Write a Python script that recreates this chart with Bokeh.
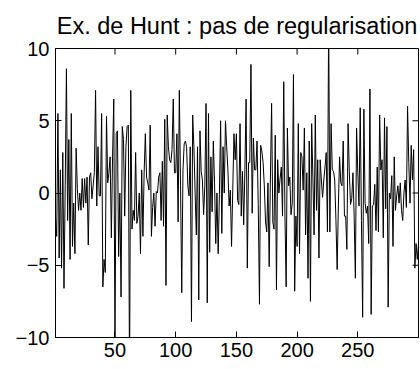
import numpy as np
from bokeh.plotting import figure
from bokeh.models import Range1d, FixedTicker, ColumnDataSource
from bokeh.embed import file_html
from bokeh.resources import INLINE

title_text = "Ex. de Hunt : pas de regularisation"
x_ticks = [50, 100, 150, 200, 250]
y_ticks = [-10, -5, 0, 5, 10]

seg1 = [-1.7, -3.0, 5.5, -4.5, 1.6, -5.2, 2.8, -6.6, 0.5, 8.6, -1.9, 3.7, -4.6, 5.5, -3.7, -0.7,
        -4.2, 3.1, 0.3, -1.2, 0.0, -1.2, 1.0, -1.0, 1.0, -0.7, 1.1, -3.6, 1.1, 1.4, -0.4, 0.5,
        1.4, 7.1, -0.9, 3.2, -0.2, -0.2, 5.5, -6.5, -4.6, -5.5, 5.3, 0.7, 1.4, 2.5, -3.1, 2.5, 6.5]
seg2 = [-10.6, 4.1, 4.3, -4.4, 0.0, -7.2, 4.6, 3.7, -1.6, 3.2, 4.6, 4.7, -13.0,
        7.1, -2.5, -1.2, -1.9, 2.8, -2.1, -1.6, 0.0, -4.2, 1.6, -3.0, 1.4, 4.1, 1.1, 0.7, 0.2,
        4.7, -3.0, -1.0, 0.0, -2.3, 0.1, 0.0, 1.1, 1.4, -1.9, 2.2, -2.3, 5.1, -6.4, 5.4, 3.2,
        2.3, 2.1, 3.0, 6.5, 1.4, 1.4]
seg3 = [4.1, -2.0, 7.1, 0.5, -6.9, 1.6, 3.4, 3.6, 3.2, 0.5, -0.2, 3.2, -8.9, 5.4, 3.2, 0.0,
        -2.9, 3.2, -7.4, 4.3, 1.5, 0.9, -1.5, 0.5, 6.2, -7.6, 5.5, -4.1, 2.5, -1.3, 3.6, 0.7,
        -3.5, 0.0, -4.2, -0.1, 5.0, -2.8, 3.2, 0.0, 5.0, 3.2, 1.6, -0.9, 0.2, -3.7, 0.2, 4.1, 2.3]
seg4 = [4.1, -0.5, -0.8, 4.8, -1.6, 1.5, -2.2, 1.6, 6.5, -5.2, 2.1, 2.1, 8.9, -1.4, 3.8, 1.6,
        1.6, 3.6, -0.8, -7.7, 3.3, 2.9, 2.1, 0.5, -2.0, -2.7, 0.7, -5.1, 0.9, 6.2, -2.0, -2.5,
        4.0, -6.7, 2.3, 0.0, 1.0, 1.8, -1.6, 7.7, -1.6, -6.5, 4.5, 0.5, 1.1, -1.5, -0.7, 8.2,
        -6.8, -1.6, -3.7]
seg5 = [4.8, -4.2, 2.8, 2.5, 0.2, 4.5, -2.9, 1.4, -5.9, 3.6, -7.5, 4.8, 1.1, -2.9, 5.4, -1.2,
        2.3, -4.5, 2.3, 0.9, -0.3, 0.9, 1.8, 2.8, -2.7, 12.0,
        -2.7, 4.8, 1.6, 1.5, 0.9, -1.9, -5.3, -0.9, 2.5, 0.7, 0.5, 3.6, -1.6, -1.6, -3.9, 4.8,
        1.5, -0.8, -0.4, 1.4, -1.6, -5.9, 4.5, 1.4]
seg6 = [-0.9, 5.9, -1.9, -8.6, 5.8, -0.7, -1.4, -0.9, -3.5, 7.2, -8.4, -0.9, -0.8, 0.6, -2.6,
        1.8, -2.7, 5.4, 1.6, 2.3, -3.1, 5.2, -1.1, 4.6, -7.9, 0.0, -0.4, 1.2, -3.7, 2.5, -1.2,
        -0.2, 0.5, -0.7, 0.7, -1.2, -1.9, 0.0, 0.9, -1.0, 6.0, 2.1, -0.7, 3.3, 0.9, 3.0, -5.2,
        -3.5, -4.6, -3.5]

y = seg1 + seg2 + seg3 + seg4 + seg5 + seg6
x = list(range(1, len(y) + 1))

FONT = "Liberation Sans"
FS = "20px"

xr = Range1d(1, len(y))
yr = Range1d(-10, 10)
p = figure(width=420, height=369, output_backend="svg", toolbar_location=None,
           x_range=xr, y_range=yr,
           min_border_left=55, min_border_right=2, min_border_top=48, min_border_bottom=32)
p.title.text = title_text
p.title.align = "center"
p.title.text_font = FONT
p.title.text_font_size = "23.5px"
p.title.text_font_style = "normal"
p.title.text_color = "black"
p.title.offset = 0
p.title.standoff = 19

p.grid.visible = False
p.outline_line_color = "black"
p.outline_line_width = 1
p.background_fill_color = "white"
p.border_fill_color = "white"

src = ColumnDataSource(dict(x=x, y=y))
p.line("x", "y", source=src, line_color="black", line_width=1)

# inward ticks on top and right sides (box on)
p.scatter(x=x_ticks, y=[yr.end] * len(x_ticks), marker="dash", size=12, angle=np.pi / 2,
          line_color="black", line_width=1)
p.scatter(x=[xr.end] * len(y_ticks), y=y_ticks, marker="dash", size=12, angle=0,
          line_color="black", line_width=1)

for ax in (p.xaxis[0], p.yaxis[0]):
    ax.major_tick_in = 6
    ax.major_tick_out = 0
    ax.minor_tick_in = 0
    ax.minor_tick_out = 0
    ax.major_label_text_font = FONT
    ax.major_label_text_font_size = FS
    ax.major_label_text_color = "black"
    ax.axis_line_color = "black"
    ax.major_tick_line_color = "black"
p.xaxis[0].ticker = FixedTicker(ticks=x_ticks)
p.yaxis[0].ticker = FixedTicker(ticks=y_ticks)
p.xaxis[0].major_label_standoff = 5
p.yaxis[0].major_label_standoff = 6
p.yaxis[0].major_label_overrides = {-10: "\u221210", -5: "\u22125"}

open("out.html", "w").write(file_html(p, INLINE))
